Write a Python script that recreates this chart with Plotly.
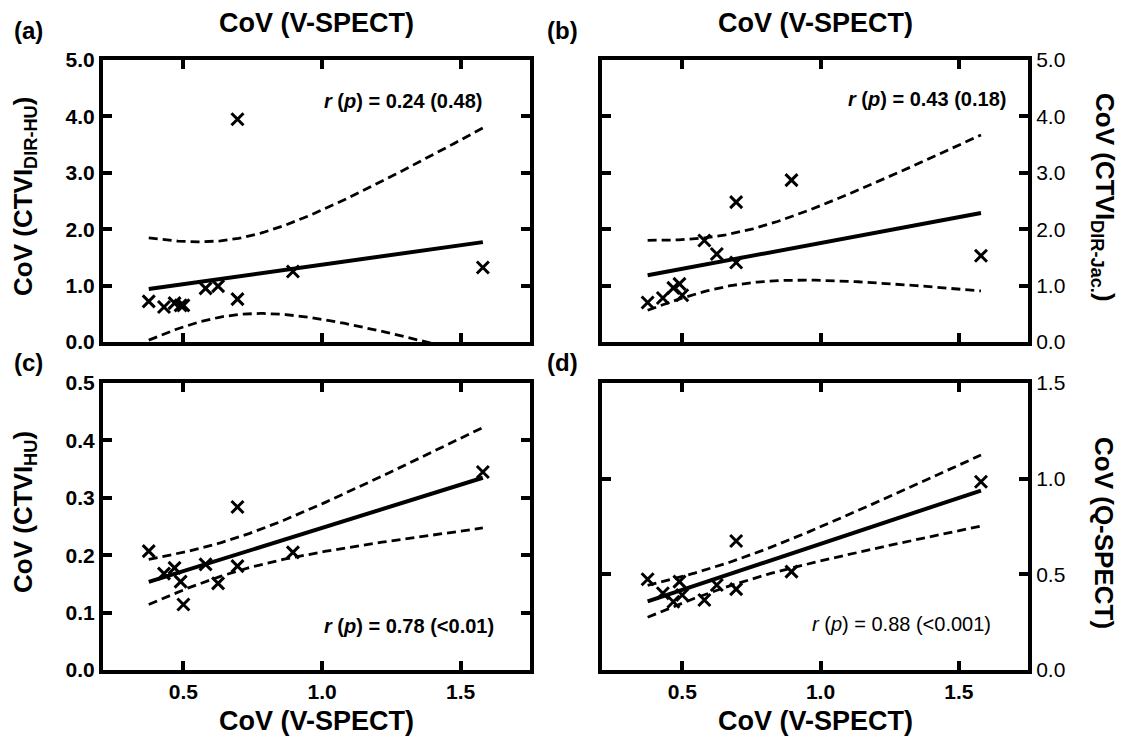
import numpy as np
import plotly.graph_objects as go

W, H = 1124, 740

# ---- data ----
v_spect = [0.375, 0.43, 0.468, 0.49, 0.50, 0.58, 0.625, 0.695, 0.695, 0.895, 1.58]
ctvi_dir_hu = [0.72, 0.62, 0.69, 0.65, 0.65, 0.95, 0.99, 3.95, 0.76, 1.25, 1.32]
ctvi_dir_jac = [0.70, 0.78, 0.96, 1.03, 0.83, 1.80, 1.56, 2.48, 1.41, 2.87, 1.53]
ctvi_hu = [0.207, 0.168, 0.178, 0.154, 0.114, 0.184, 0.151, 0.284, 0.181, 0.205, 0.345]
q_spect = [0.474, 0.401, 0.357, 0.462, 0.392, 0.366, 0.444, 0.674, 0.423, 0.514, 0.984]

panel_labels = ["(a)", "(b)", "(c)", "(d)"]
stats_text = ["0.24 (0.48)", "0.43 (0.18)", "0.78 (<0.01)", "0.88 (<0.001)"]
x_title = "CoV (V-SPECT)"
y_titles = ["CoV (CTVI<sub>DIR-HU</sub>)", "CoV (CTVI<sub>DIR-Jac.</sub>)",
            "CoV (CTVI<sub>HU</sub>)", "CoV (Q-SPECT)"]
y_ranges = [[0, 5], [0, 5], [0, 0.5], [0, 1.5]]
y_dticks = [1.0, 1.0, 0.1, 0.5]
x_range = [0.21, 1.75]
x_ticks = [0.5, 1.0, 1.5]

T_CRIT = 2.2622  # t(0.975, df=9)

FONT = "Liberation Sans, Arial, sans-serif"


def px_x(p):
    return p / W


def px_y(p):
    return 1 - p / H


def fit_band(x, y):
    x = np.asarray(x, float)
    y = np.asarray(y, float)
    n = len(x)
    slope, intercept = np.polyfit(x, y, 1)
    resid = y - (slope * x + intercept)
    s = np.sqrt(np.sum(resid ** 2) / (n - 2))
    xbar = x.mean()
    sxx = np.sum((x - xbar) ** 2)
    xs = np.linspace(x.min(), x.max(), 150)
    yh = slope * xs + intercept
    se = s * np.sqrt(1.0 / n + (xs - xbar) ** 2 / sxx)
    return xs, yh, yh - T_CRIT * se, yh + T_CRIT * se


series = [ctvi_dir_hu, ctvi_dir_jac, ctvi_hu, q_spect]

# panel geometry in pixels: (left, right, top, bottom)
boxes = [(103, 530, 60, 342), (602, 1028, 60, 342),
         (103, 530, 383, 670), (602, 1028, 383, 670)]

fig = go.Figure()

for i, yv in enumerate(series):
    ax = "" if i == 0 else str(i + 1)
    xs, yh, lo, hi = fit_band(v_spect, yv)
    for yy, dash, lw in [(lo, "9px,5px", 2.8), (hi, "9px,5px", 2.8), (yh, "solid", 4)]:
        fig.add_trace(go.Scatter(x=xs, y=yy, mode="lines",
                                 line=dict(color="black", width=lw, dash=dash),
                                 xaxis="x" + ax, yaxis="y" + ax,
                                 showlegend=False, hoverinfo="skip"))
    fig.add_trace(go.Scatter(x=v_spect, y=yv, mode="markers",
                             marker=dict(symbol="x-thin", size=12, color="black",
                                         line=dict(color="black", width=3)),
                             xaxis="x" + ax, yaxis="y" + ax, showlegend=False,
                             cliponaxis=False))

layout = dict(width=W, height=H, margin=dict(l=0, r=0, t=0, b=0, autoexpand=False),
              plot_bgcolor="white", paper_bgcolor="white",
              font=dict(family=FONT, color="black"))

annotations = []


def add_text(px, py, text, size, weight="bold", angle=0, xanchor="center"):
    annotations.append(dict(x=px_x(px), y=px_y(py), xref="paper", yref="paper",
                            xanchor=xanchor, yanchor="middle", text=text,
                            showarrow=False, textangle=angle,
                            font=dict(family=FONT, size=size, color="black",
                                      weight=weight)))


for i in range(4):
    l, r, t, b = boxes[i]
    ax = "" if i == 0 else str(i + 1)
    right = i in (1, 3)
    bottom = i in (2, 3)
    tick_font = dict(family=FONT, size=21, color="black",
                     weight="normal" if right else "bold")
    layout["xaxis" + ax] = dict(
        domain=[px_x(l), px_x(r)], range=x_range, anchor="y" + ax,
        tickvals=x_ticks, tickformat=".1f", showticklabels=bottom,
        showline=True, linewidth=4, linecolor="black", mirror="ticks",
        ticks="inside", ticklen=9, tickwidth=4, tickcolor="black",
        showgrid=False, zeroline=False, automargin=False,
        tickfont=dict(family=FONT, size=21, color="black", weight="bold"),
    )
    layout["yaxis" + ax] = dict(
        domain=[px_y(b), px_y(t)], range=y_ranges[i], anchor="x" + ax,
        dtick=y_dticks[i], tick0=0, tickformat=".1f",
        side="right" if right else "left",
        showline=True, linewidth=4, linecolor="black", mirror="ticks",
        ticks="inside", ticklen=9, tickwidth=4, tickcolor="black",
        showgrid=False, zeroline=False, automargin=False, tickfont=tick_font,
    )

    cx = (l + r) / 2
    # x-axis title
    add_text(cx, 721 if bottom else 23, x_title, 27)
    # y-axis titles
    ty = [197, 197, 512, 533][i]
    tx = 1104 if right else 24
    add_text(tx, ty, y_titles[i], 26, angle=90 if right else -90)
    # panel letters
    add_text(562 if right else 28, 30 if i < 2 else 362, panel_labels[i], 24)
    # statistics
    sx = [484, 1008, 496, 993][i]
    sy = [101, 99, 626, 624][i]
    add_text(sx, sy, "<i>r</i> (<i>p</i>) = " + stats_text[i], 20,
             weight="normal" if i == 3 else "bold", xanchor="right")

layout["annotations"] = annotations
fig.update_layout(**layout)
fig.write_html("out.html")
